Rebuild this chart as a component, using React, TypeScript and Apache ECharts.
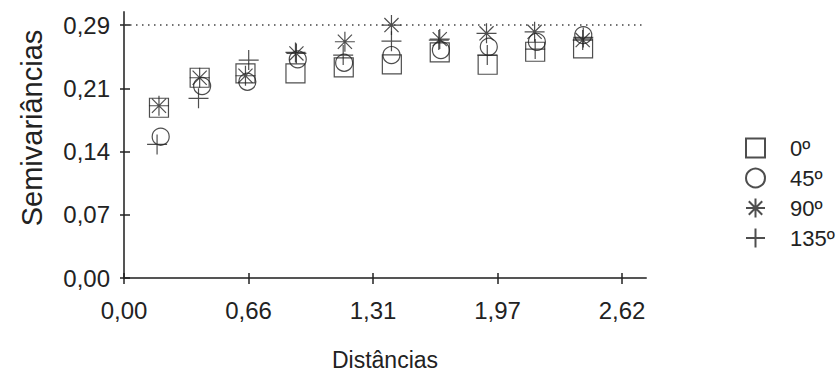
import React, { useEffect, useRef } from 'react';
import * as echarts from 'echarts';

const xTickValues = [0, 0.655, 1.31, 1.965, 2.62];
const xTickLabels = ['0,00', '0,66', '1,31', '1,97', '2,62'];
const yTickValues = [0, 0.0725, 0.145, 0.2175, 0.29];
const yTickLabels = ['0,00', '0,07', '0,14', '0,21', '0,29'];
const xMax = 2.746;
const yMax = 0.305;
const sill = 0.29;

const seriesNames = ['0º', '45º', '90º', '135º'];

const dist0 = [0.184, 0.398, 0.639, 0.902, 1.156, 1.409, 1.661, 1.913, 2.163, 2.415];
const semi0 = [0.1952, 0.2296, 0.2346, 0.2346, 0.2415, 0.2449, 0.2587, 0.2445, 0.2594, 0.2633];

const dist45 = [0.193, 0.411, 0.649, 0.914, 1.158, 1.407, 1.667, 1.919, 2.172, 2.416];
const semi45 = [0.162, 0.2201, 0.225, 0.2507, 0.2468, 0.2556, 0.2613, 0.2651, 0.2708, 0.2785];

const dist90 = [0.184, 0.398, 0.639, 0.907, 1.162, 1.407, 1.661, 1.907, 2.16, 2.413];
const semi90 = [0.1975, 0.2296, 0.2319, 0.2575, 0.2709, 0.29, 0.2739, 0.2805, 0.2823, 0.2728];

const dist135 = [0.174, 0.392, 0.656, 0.902, 1.153, 1.407, 1.656, 1.911, 2.163, 2.416];
const semi135 = [0.1532, 0.206, 0.2499, 0.2587, 0.2556, 0.2716, 0.2728, 0.2556, 0.2625, 0.2759];

const FONT = '"Liberation Sans", Arial, Helvetica, sans-serif';
const INK = '#222';

const STAR = 'path://M0,-10V10M-10,0H10M-7.07,-7.07L7.07,7.07M-7.07,7.07L7.07,-7.07';
const PLUS = 'path://M0,-10V10M-10,0H10';

function pairs(xs: number[], ys: number[]) {
  return xs.map((x, i) => [x, ys[i]]);
}

function labelFor(values: number[], labels: string[]) {
  return (v: number) => {
    const i = values.findIndex((t) => Math.abs(t - v) < 1e-9);
    return i >= 0 ? labels[i] : '';
  };
}

export default function App() {
  const ref = useRef<HTMLDivElement>(null);
  useEffect(() => {
    const chart = echarts.init(ref.current!, null, { renderer: 'svg' });
    const markerStyle = { color: 'transparent', borderColor: INK, borderWidth: 1.2 };
    const option: any = {
      animation: false,
      backgroundColor: '#fff',
      grid: { left: 124, right: 193, top: 12, bottom: 98, containLabel: false },
      xAxis: [
        {
          type: 'value',
          position: 'bottom',
          min: 0,
          max: xMax,
          axisLine: { show: true, lineStyle: { color: '#555', width: 2 } },
          axisTick: { show: true, inside: false, length: 6, customValues: xTickValues, lineStyle: { color: INK, width: 1.5 } },
          axisLabel: {
            show: true,
            customValues: xTickValues,
            formatter: labelFor(xTickValues, xTickLabels),
            margin: 20,
            fontSize: 24,
            color: INK,
            fontFamily: FONT,
          },
          splitLine: { show: false },
          name: 'Distâncias',
          nameLocation: 'middle',
          nameGap: 70,
          nameTextStyle: { fontSize: 23, color: INK, fontFamily: FONT },
        },
        {
          type: 'value',
          position: 'bottom',
          min: 0,
          max: xMax,
          axisLine: { show: false },
          axisTick: { show: true, inside: true, length: 5, customValues: xTickValues, lineStyle: { color: INK, width: 1.5 } },
          axisLabel: { show: false },
          splitLine: { show: false },
        },
      ],
      yAxis: [
        {
          type: 'value',
          position: 'left',
          min: 0,
          max: yMax,
          axisLine: { show: true, lineStyle: { color: '#555', width: 2 } },
          axisTick: { show: true, inside: false, length: 4, customValues: yTickValues, lineStyle: { color: INK, width: 1.5 } },
          axisLabel: {
            show: true,
            customValues: yTickValues,
            formatter: labelFor(yTickValues, yTickLabels),
            margin: 14,
            fontSize: 24,
            color: INK,
            fontFamily: FONT,
          },
          splitLine: { show: false },
        },
        {
          type: 'value',
          position: 'left',
          min: 0,
          max: yMax,
          axisLine: { show: false },
          axisTick: { show: true, inside: true, length: 6, customValues: yTickValues, lineStyle: { color: INK, width: 1.5 } },
          axisLabel: { show: false },
          splitLine: { show: false },
        },
      ],
      legend: {
        orient: 'vertical',
        left: 740,
        top: 132,
        itemWidth: 19,
        itemHeight: 19,
        itemGap: 8,
        data: seriesNames,
        textStyle: { fontSize: 22, color: INK, fontFamily: FONT, padding: [0, 0, 0, 20] },
      },
      graphic: [
        {
          type: 'text',
          x: 32,
          y: 128,
          rotation: Math.PI / 2,
          style: {
            text: 'Semivariâncias',
            fontSize: 29,
            fontFamily: FONT,
            fill: INK,
            textAlign: 'center',
            textVerticalAlign: 'middle',
          },
        },
      ],
      series: [
        {
          name: seriesNames[0],
          type: 'scatter',
          symbol: 'rect',
          symbolSize: 19,
          itemStyle: markerStyle,
          data: pairs(dist0, semi0),
          markLine: {
            silent: true,
            symbol: 'none',
            label: { show: false },
            lineStyle: { type: [1.5, 4.5], color: '#444', width: 1.5 },
            data: [{ yAxis: sill }],
          },
        },
        {
          name: seriesNames[1],
          type: 'scatter',
          symbol: 'circle',
          symbolSize: 17,
          itemStyle: markerStyle,
          data: pairs(dist45, semi45),
        },
        {
          name: seriesNames[2],
          type: 'scatter',
          symbol: STAR,
          symbolSize: 20,
          itemStyle: markerStyle,
          data: pairs(dist90, semi90),
        },
        {
          name: seriesNames[3],
          type: 'scatter',
          symbol: PLUS,
          symbolSize: 20,
          itemStyle: markerStyle,
          data: pairs(dist135, semi135),
        },
      ],
    };
    chart.setOption(option);
    return () => chart.dispose();
  }, []);
  return (
    <div
      ref={ref}
      style={{ position: 'fixed', left: 0, top: 0, width: 839, height: 376, background: '#fff' }}
    />
  );
}
